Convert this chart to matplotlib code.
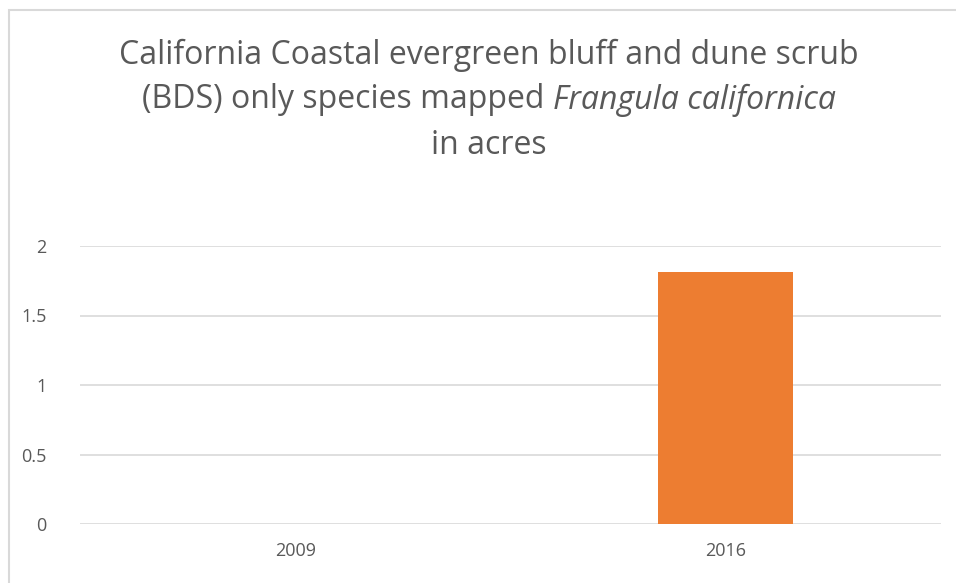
import matplotlib
matplotlib.use("Agg")
import matplotlib.pyplot as plt
from matplotlib.patches import Rectangle

# data
years = ["2009", "2016"]
acres = [0.0, 1.81]
y_ticks = [0, 0.5, 1, 1.5, 2]
y_tick_labels = ["0", "0.5", "1", "1.5", "2"]

gray_text = "#595959"
grid_color = "#d9d9d9"
bar_color = "#ed7d31"

fig = plt.figure(figsize=(9.56, 5.83), dpi=100)
plt.rcParams['font.family'] = ['Open Sans', 'DejaVu Sans']

# chart frame
fig.patches.append(Rectangle((9 / 956, -0.05), 1.0, 1 - 10 / 583 + 0.05,
                             transform=fig.transFigure, fill=False,
                             edgecolor=grid_color, lw=1.5))

ax = fig.add_axes([80 / 956, 1 - 524 / 583, (941 - 80) / 956, (524 - 246) / 583])
x = range(len(years))
ax.bar(x, acres, width=0.314, color=bar_color, zorder=3)
ax.set_xlim(-0.5, 1.5)
ax.set_ylim(0, 2)
ax.set_yticks(y_ticks)
ax.set_yticklabels(y_tick_labels)
ax.set_xticks(list(x))
ax.set_xticklabels(years)
ax.grid(axis='y', color=grid_color, lw=1.2, zorder=0)
for s in ax.spines.values():
    s.set_visible(False)
ax.tick_params(length=0, labelsize=13, colors=gray_text, pad=13)
ax.tick_params(axis='y', pad=24)
ax.set_clip_on(False)

# title with italic species name
tsize = 23
fig.text(489 / 956, 1 - 55 / 583, "California Coastal evergreen bluff and dune scrub",
         ha='center', va='center', fontsize=tsize, color=gray_text)
fig.text(489 / 956, 1 - 145 / 583, "in acres",
         ha='center', va='center', fontsize=tsize, color=gray_text)

renderer = fig.canvas.get_renderer()
part1 = fig.text(0, 1 - 100 / 583, "(BDS) only species mapped ",
                 ha='left', va='center', fontsize=tsize, color=gray_text)
part2 = fig.text(0, 1 - 100 / 583, "Frangula californica",
                 ha='left', va='center', fontsize=tsize, color=gray_text, style='italic')
w1 = part1.get_window_extent(renderer).width
w2 = part2.get_window_extent(renderer).width
start = 489 - (w1 + w2) / 2
part1.set_x(start / 956)
part2.set_x((start + w1) / 956)

fig.savefig("out.png", dpi=100)
